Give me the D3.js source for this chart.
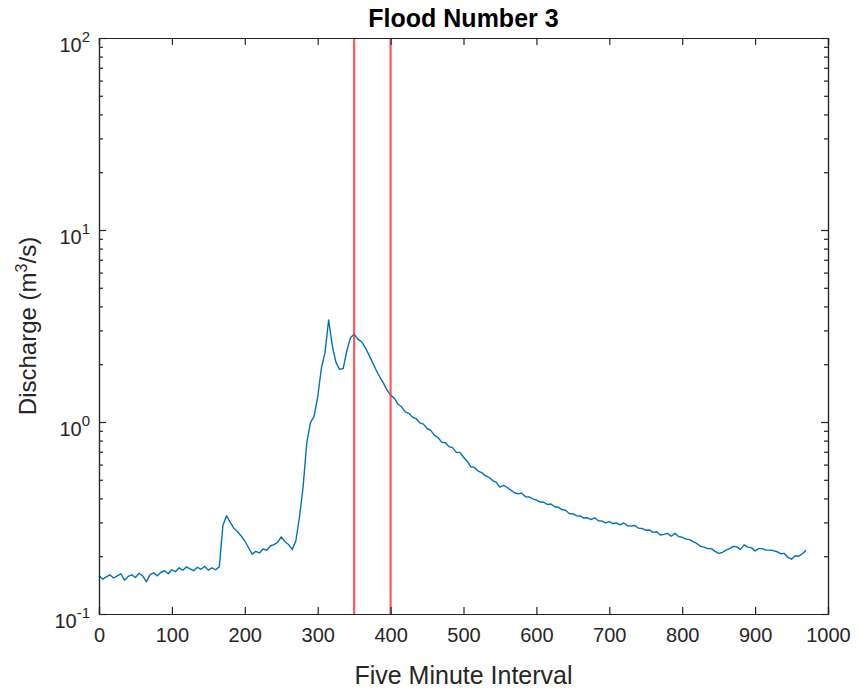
<!DOCTYPE html>
<html>
<head>
<meta charset="utf-8">
<script src="https://cdn.jsdelivr.net/npm/d3@7"></script>
<style>
  html, body { margin: 0; padding: 0; background: #fff; }
  svg { display: block; }
  text { font-family: "Liberation Sans", Arial, Helvetica, sans-serif; }
</style>
</head>
<body>
<svg id="chart" width="858" height="694"></svg>
<script>
// Discharge record for flood event 3, sampled every five intervals
const intervalStep = 5;
const discharge = [
  0.158, 0.152, 0.156, 0.160, 0.154, 0.158, 0.162, 0.150, 0.157, 0.160,
  0.155, 0.163, 0.158, 0.147, 0.160, 0.164, 0.158, 0.165, 0.168, 0.162,
  0.170, 0.166, 0.174, 0.169, 0.176, 0.172, 0.168, 0.175, 0.171, 0.177,
  0.169, 0.174, 0.170, 0.176, 0.290, 0.325, 0.300, 0.280, 0.268, 0.255,
  0.240, 0.222, 0.205, 0.212, 0.208, 0.218, 0.215, 0.226, 0.230, 0.236,
  0.252, 0.238, 0.230, 0.217, 0.240, 0.320, 0.460, 0.780, 0.990, 1.070,
  1.350, 1.900, 2.300, 3.400, 2.500, 2.050, 1.880, 1.900, 2.350, 2.750,
  2.870, 2.700, 2.620, 2.450, 2.250, 2.050, 1.870, 1.720, 1.600, 1.470,
  1.380, 1.330, 1.240, 1.200, 1.130, 1.110, 1.060, 1.040, 0.990, 0.975,
  0.925, 0.905, 0.855, 0.830, 0.785, 0.780, 0.745, 0.735, 0.695, 0.695,
  0.655, 0.625, 0.585, 0.580, 0.555, 0.545, 0.525, 0.515, 0.495, 0.485,
  0.458, 0.468, 0.456, 0.442, 0.428, 0.423, 0.426, 0.408, 0.407, 0.398,
  0.392, 0.383, 0.382, 0.372, 0.374, 0.362, 0.360, 0.350, 0.347, 0.334,
  0.332, 0.325, 0.324, 0.316, 0.317, 0.310, 0.317, 0.306, 0.305, 0.298,
  0.303, 0.296, 0.298, 0.291, 0.298, 0.288, 0.287, 0.289, 0.280, 0.279,
  0.273, 0.274, 0.266, 0.268, 0.258, 0.260, 0.263, 0.254, 0.263, 0.253,
  0.251, 0.246, 0.244, 0.238, 0.233, 0.225, 0.223, 0.219, 0.219, 0.212,
  0.207, 0.209, 0.215, 0.219, 0.225, 0.224, 0.217, 0.229, 0.223, 0.221,
  0.213, 0.219, 0.219, 0.215, 0.215, 0.214, 0.211, 0.206, 0.207, 0.197,
  0.193, 0.201, 0.200, 0.206, 0.215
];
const interval = discharge.map((_, i) => i * intervalStep);

// Window markers (five-minute interval numbers)
const markers = [350, 400];

const xTicks = [0, 100, 200, 300, 400, 500, 600, 700, 800, 900, 1000];
const yDecades = [-1, 0, 1, 2];

const title = "Flood Number 3";
const xLabel = "Five Minute Interval";

const svg = d3.select("#chart");
const margin = { left: 99, right: 30, top: 38, bottom: 80 };
const W = 858, H = 694;
const x0 = margin.left, x1 = W - margin.right;
const y0 = margin.top, y1 = H - margin.bottom;

const x = d3.scaleLinear().domain([0, 1000]).range([x0, x1]);
const y = d3.scaleLog().domain([0.1, 100]).range([y1, y0]);

const axisColor = "#262626";

// Data line
const line = d3.line()
  .x((d, i) => x(interval[i]))
  .y(d => y(d));

svg.append("path")
  .datum(discharge)
  .attr("d", line)
  .attr("fill", "none")
  .attr("stroke", "#0072BD")
  .attr("stroke-width", 1.4)
  .attr("stroke-linejoin", "round");

// Vertical markers
svg.selectAll("line.marker")
  .data(markers)
  .enter().append("line")
  .attr("class", "marker")
  .attr("x1", d => x(d)).attr("x2", d => x(d))
  .attr("y1", y0).attr("y2", y1)
  .attr("stroke", "#ff3030")
  .attr("stroke-opacity", 0.8)
  .attr("stroke-width", 2.2);

// Axes box (ticks point inward on all four sides)
const majorLen = 7, minorLen = 4;

const bottomAxis = d3.axisBottom(x).tickValues(xTicks).tickSize(-majorLen).tickPadding(14).tickFormat(d3.format("d"));
const topAxis = d3.axisTop(x).tickValues(xTicks).tickSize(-majorLen).tickFormat("");

const gb = svg.append("g").attr("transform", `translate(0,${y1})`).call(bottomAxis);
const gt = svg.append("g").attr("transform", `translate(0,${y0})`).call(topAxis);

const minorVals = [];
yDecades.slice(0, -1).forEach(e => {
  for (let m = 2; m <= 9; m++) minorVals.push(m * Math.pow(10, e));
});
const majorVals = yDecades.map(e => Math.pow(10, e));

const leftMajor = d3.axisLeft(y).tickValues(majorVals).tickSize(-majorLen).tickFormat("");
const leftMinor = d3.axisLeft(y).tickValues(minorVals).tickSize(-minorLen).tickFormat("");
const rightMajor = d3.axisRight(y).tickValues(majorVals).tickSize(-majorLen).tickFormat("");
const rightMinor = d3.axisRight(y).tickValues(minorVals).tickSize(-minorLen).tickFormat("");

const gl = svg.append("g").attr("transform", `translate(${x0},0)`);
gl.call(leftMajor); gl.append("g").call(leftMinor);
const gr = svg.append("g").attr("transform", `translate(${x1},0)`);
gr.call(rightMajor); gr.append("g").call(rightMinor);

svg.selectAll(".domain").attr("stroke", axisColor).attr("stroke-width", 1.2);
svg.selectAll(".tick line").attr("stroke", axisColor).attr("stroke-width", 1.2);

gb.selectAll(".tick text")
  .attr("fill", axisColor)
  .attr("font-size", 20)
  .style("font-family", "Liberation Sans, Arial, sans-serif");

// Log-decade labels: 10 with a superscript exponent
yDecades.forEach(e => {
  const t = svg.append("text")
    .attr("x", x0 - 9)
    .attr("y", y(Math.pow(10, e)) + 14)
    .attr("text-anchor", "end")
    .attr("fill", axisColor)
    .attr("font-size", 20);
  t.append("tspan").text("10");
  t.append("tspan").attr("dy", -10).attr("font-size", 15).text(String(e));
});

// Title
svg.append("text")
  .attr("x", (x0 + x1) / 2)
  .attr("y", 27)
  .attr("text-anchor", "middle")
  .attr("font-weight", "bold")
  .attr("font-size", 25)
  .attr("fill", "#000")
  .text(title);

// X label
svg.append("text")
  .attr("x", (x0 + x1) / 2)
  .attr("y", 684)
  .attr("text-anchor", "middle")
  .attr("font-size", 25)
  .attr("fill", axisColor)
  .text(xLabel);

// Y label with superscript
const yl = svg.append("text")
  .attr("transform", `translate(36,${(y0 + y1) / 2}) rotate(-90)`)
  .attr("text-anchor", "middle")
  .attr("font-size", 24)
  .attr("fill", axisColor);
yl.append("tspan").text("Discharge (m");
yl.append("tspan").attr("dy", -9).attr("font-size", 16).text("3");
yl.append("tspan").attr("dy", 9).text("/s)");
</script>
</body>
</html>
